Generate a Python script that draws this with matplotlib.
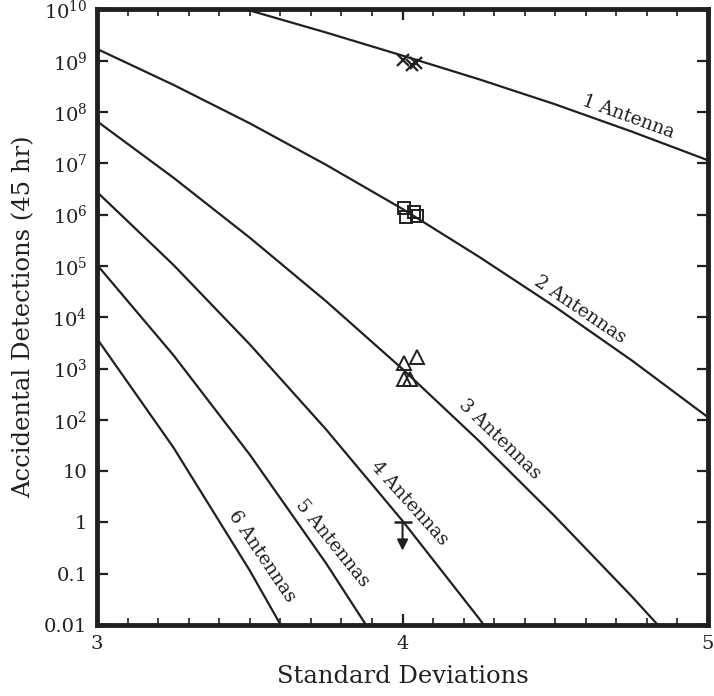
import numpy as np
import matplotlib
matplotlib.use("Agg")
import matplotlib.pyplot as plt
from matplotlib.ticker import FixedLocator, FixedFormatter, MultipleLocator

plt.rcParams['font.family'] = ['DejaVu Serif']
plt.rcParams['mathtext.default'] = 'regular'

INK = '#231f20'

# accidental detections (log10) vs threshold in standard deviations
sigma_1 = [3.4, 3.5, 3.75, 4.0, 4.25, 4.5, 4.75, 5.0]
log_1 = [10.15, 9.98, 9.55, 9.10, 8.64, 8.15, 7.62, 7.06]
sigma_2 = [3.0, 3.25, 3.5, 3.75, 4.0, 4.25, 4.5, 4.75, 5.0]
log_2 = [9.23, 8.53, 7.78, 6.97, 6.11, 5.18, 4.20, 3.16, 2.05]
sigma_3 = [3.0, 3.25, 3.5, 3.75, 4.0, 4.25, 4.5, 4.75, 5.0]
log_3 = [7.82, 6.72, 5.55, 4.31, 2.99, 1.59, 0.11, -1.44, -3.07]
sigma_4 = [3.0, 3.25, 3.5, 3.75, 4.0, 4.25, 4.5]
log_4 = [6.44, 5.02, 3.47, 1.81, 0.03, -1.87, -3.89]
sigma_5 = [3.0, 3.25, 3.5, 3.75, 4.0]
log_5 = [5.02, 3.26, 1.32, -0.80, -3.10]
sigma_6 = [3.0, 3.25, 3.5, 3.75]
log_6 = [3.58, 1.46, -0.94, -3.56]

curve_labels = ['1 Antenna', '2 Antennas', '3 Antennas', '4 Antennas', '5 Antennas', '6 Antennas']
label_sigma = [4.738, 4.581, 4.319, 4.021, 3.769, 3.540]
label_log = [7.90, 4.14, 1.61, 0.38, -0.40, -0.67]
label_rot = [-20, -34, -44, -48, -51, -56]

# observed points
cross_sigma = [4.0, 4.03, 4.045]
cross_log = [9.02, 8.92, 8.96]
square_sigma = [4.006, 4.011, 4.037, 4.048]
square_log = [6.13, 5.96, 6.05, 5.97]
tri_sigma = [4.006, 4.046, 4.006, 4.023]
tri_log = [3.1, 3.23, 2.8, 2.8]
limit_sigma = 4.0
limit_log = 0.0
limit_tip_log = -0.55

ytick_vals = [1e-2, 1e-1, 1, 10, 1e2, 1e3, 1e4, 1e5, 1e6, 1e7, 1e8, 1e9, 1e10]
ytick_labels = ['0.01', '0.1', '1', '10', '$10^{2}$', '$10^{3}$', '$10^{4}$', '$10^{5}$',
                '$10^{6}$', '$10^{7}$', '$10^{8}$', '$10^{9}$', '$10^{10}$']

fig = plt.figure(figsize=(7.14, 6.96), dpi=100)
ax = fig.add_axes([0.136, 0.102, 0.8556, 0.8844])

for s, l in [(sigma_1, log_1), (sigma_2, log_2), (sigma_3, log_3),
             (sigma_4, log_4), (sigma_5, log_5), (sigma_6, log_6)]:
    ax.plot(s, 10 ** np.array(l), color=INK, lw=1.6)

ax.plot(cross_sigma, 10 ** np.array(cross_log), ls='none', marker='x', ms=9, mew=1.6, color=INK)
ax.plot(square_sigma, 10 ** np.array(square_log), ls='none', marker='s', ms=8.5, mew=1.4,
        mfc='none', mec=INK)
ax.plot(tri_sigma, 10 ** np.array(tri_log), ls='none', marker='^', ms=10, mew=1.4,
        mfc='none', mec=INK)
ax.plot(limit_sigma, 10 ** limit_log, marker='_', ms=13, mew=1.8, color=INK)
ax.annotate('', xy=(limit_sigma, 10 ** limit_tip_log), xytext=(limit_sigma, 10 ** limit_log),
            arrowprops=dict(arrowstyle='-|>', color=INK, lw=1.5, mutation_scale=16,
                            shrinkA=0, shrinkB=0))

for txt, xs, ls_, rot in zip(curve_labels, label_sigma, label_log, label_rot):
    ax.text(xs, 10 ** ls_, txt, rotation=rot, rotation_mode='anchor', ha='center', va='center',
            fontsize=13.5, color=INK)

ax.set_yscale('log')
ax.set_xlim(3, 5)
ax.set_ylim(1e-2, 1e10)
ax.yaxis.set_major_locator(FixedLocator(ytick_vals))
ax.yaxis.set_major_formatter(FixedFormatter(ytick_labels))
ax.yaxis.set_minor_locator(FixedLocator([]))
ax.xaxis.set_major_locator(MultipleLocator(1))
ax.xaxis.set_minor_locator(MultipleLocator(0.1))

ax.tick_params(which='both', direction='in', top=True, right=True, color=INK, labelcolor=INK)
ax.tick_params(which='major', length=8, width=1.6, labelsize=14, pad=7)
ax.tick_params(which='minor', length=5, width=1.2)
for sp in ax.spines.values():
    sp.set_linewidth(3.5)
    sp.set_color(INK)

ax.set_xlabel('Standard Deviations', fontsize=17.5, color=INK, labelpad=9)
ax.set_ylabel('Accidental Detections (45 hr)', fontsize=17.5, color=INK, labelpad=6)

fig.savefig('out.png', dpi=100)
